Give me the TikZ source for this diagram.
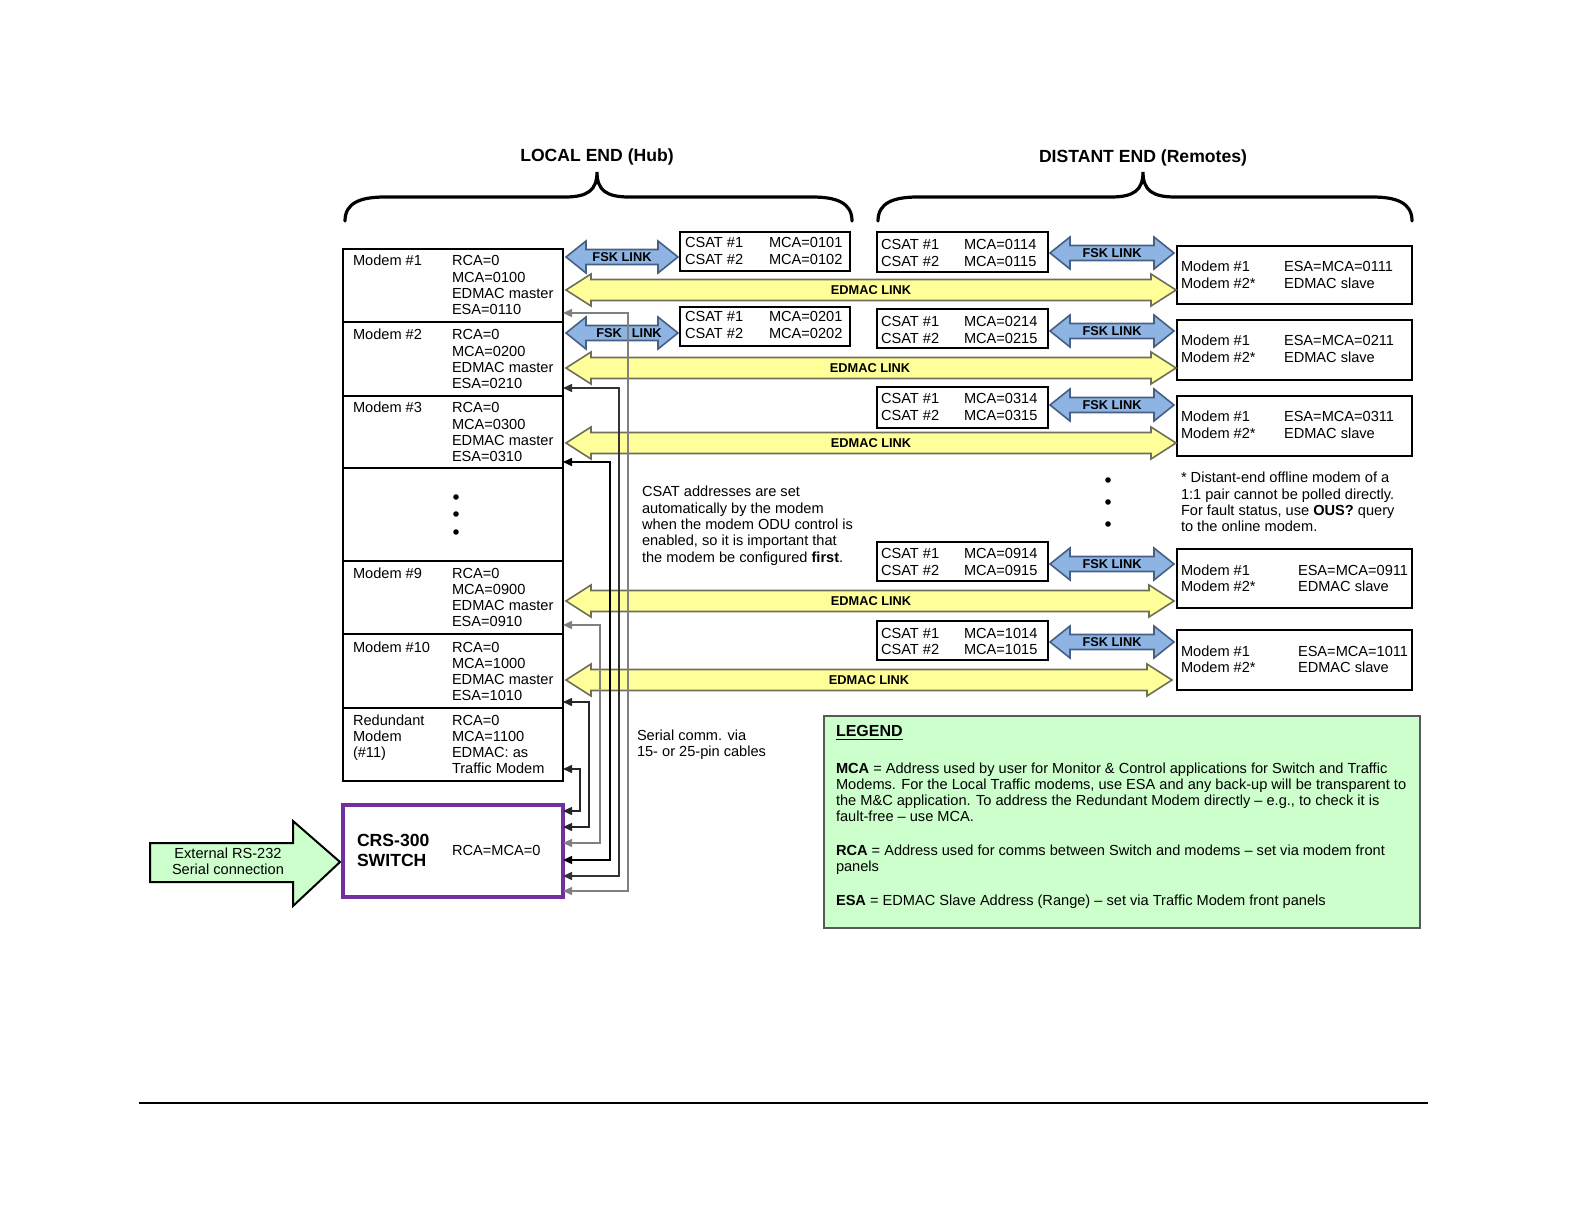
\documentclass[tikz,border=0pt]{standalone}
\usepackage{fontspec}
\setmainfont{Liberation Sans}
\usetikzlibrary{arrows.meta}
\definecolor{fskfill}{RGB}{141,180,226}
\definecolor{fskline}{RGB}{70,95,130}
\definecolor{edfill}{RGB}{255,255,153}
\definecolor{edline}{RGB}{110,110,90}
\definecolor{lgfill}{RGB}{204,255,204}
\definecolor{swline}{RGB}{112,48,160}
\newcommand{\ml}[1]{\begin{tabular}[t]{@{}l@{}}#1\end{tabular}}
% #1 style #2 name #3 x1 #4 x2 #5 yc #6 halfbody #7 halfhead #8 headlen
\newcommand{\dblarrow}[8]{%
  \draw[#1] (#3,#5) -- (#3+#8,#5-#7) -- (#3+#8,#5-#6) -- (#4-#8,#5-#6) -- (#4-#8,#5-#7) -- (#4,#5)
    -- (#4-#8,#5+#7) -- (#4-#8,#5+#6) -- (#3+#8,#5+#6) -- (#3+#8,#5+#7) -- cycle;
  \coordinate (#2) at ({(#3+#4)/2},#5);}
\newcommand{\bx}[6]{\node[box,#6,minimum width={(#4-#2)*0.5pt},minimum height={(#5-#3)*0.5pt}] (#1) at (#2,#3) {};}
\begin{document}
\begin{tikzpicture}[x=0.5pt,y=-0.5pt,
  txt/.style={font=\fontsize{7.3}{8.15}\selectfont, inner sep=0pt, outer sep=0pt, anchor=base west},
  box/.style={draw, line width=1pt, inner sep=0pt, outer sep=0pt, anchor=north west},
  lbl/.style={font=\fontsize{6.4}{7}\selectfont\bfseries, inner sep=0pt},
  fsk/.style={fill=fskfill, draw=fskline, line width=0.8pt},
  edm/.style={fill=edfill, draw=edline, line width=0.8pt},
  cable/.style={line width=0.75pt, {Triangle[length=4.5pt,width=4pt]}-{Triangle[length=4.5pt,width=4pt]}},
  brace/.style={line width=1.6pt, line cap=round},
  head/.style={font=\fontsize{8.8}{10}\selectfont\bfseries, inner sep=0pt},
]
\useasboundingbox (0,0) rectangle (1584,1224);

% headings and braces
\node[head] (hl) at (597,157) {LOCAL END (Hub)};
\node[head] (hr) at (1143,158) {DISTANT END (Remotes)};
\draw[brace] (345,221) .. controls (345,203) and (360,197) .. (385,197) -- (565,197)
  .. controls (588,197) and (597,190) .. (597,172) .. controls (597,190) and (606,197) .. (629,197)
  -- (812,197) .. controls (837,197) and (852,203) .. (852,221);
\draw[brace] (878,221) .. controls (878,203) and (893,197) .. (918,197) -- (1111,197)
  .. controls (1134,197) and (1143,190) .. (1143,172) .. controls (1143,190) and (1152,197) .. (1175,197)
  -- (1372,197) .. controls (1397,197) and (1412,203) .. (1412,221);

% local modem boxes
\bx{m1}{343}{249}{563}{322}{}
\bx{m2}{343}{322}{563}{396}{}
\bx{m3}{343}{396}{563}{468}{}
\bx{md}{343}{468}{563}{561}{}
\bx{m9}{343}{561}{563}{634}{}
\bx{m10}{343}{634}{563}{708}{}
\bx{m11}{343}{708}{563}{781}{}
\bx{sw}{343}{805}{563}{897}{draw=swline, line width=1.6pt}

\node[txt] (m1n) at (353,266) {Modem \#1};
\node[txt] (m1v) at (452,266) {\ml{RCA=0\\MCA=0100\\EDMAC master\\ESA=0110}};
\node[txt] (m2n) at (353,340) {Modem \#2};
\node[txt] (m2v) at (452,340) {\ml{RCA=0\\MCA=0200\\EDMAC master\\ESA=0210}};
\node[txt] (m3n) at (353,413) {Modem \#3};
\node[txt] (m3v) at (452,413) {\ml{RCA=0\\MCA=0300\\EDMAC master\\ESA=0310}};
\node[txt] (m9n) at (353,578) {Modem \#9};
\node[txt] (m9v) at (452,578) {\ml{RCA=0\\MCA=0900\\EDMAC master\\ESA=0910}};
\node[txt] (m10n) at (353,652) {Modem \#10};
\node[txt] (m10v) at (452,652) {\ml{RCA=0\\MCA=1000\\EDMAC master\\ESA=1010}};
\node[txt] (m11n) at (353,725) {\ml{Redundant\\Modem\\(\#11)}};
\node[txt] (m11v) at (452,725) {\ml{RCA=0\\MCA=1100\\EDMAC: as\\Traffic Modem}};
\fill (456,497) circle[radius=1.4pt];
\fill (456,514) circle[radius=1.4pt];
\fill (456,532) circle[radius=1.4pt];

\node[txt, font=\fontsize{8.8}{10}\selectfont\bfseries] (swn) at (357,846) {\ml{CRS-300\\SWITCH}};
\node[txt] (swv) at (452,855) {RCA=MCA=0};

% external connection arrow
\draw[fill=lgfill, line width=1pt] (150,843) -- (293,843) -- (293,821) -- (340,862) -- (293,906) -- (293,882) -- (150,882) -- cycle;
\node[txt, align=center, anchor=center] (ext) at (228,861) {External RS-232\\Serial connection};

% local CSAT boxes
\bx{c1}{680}{232}{850}{271}{}
\node[txt] (c1n) at (685,248) {\ml{CSAT \#1\\CSAT \#2}};
\node[txt] (c1v) at (769,248) {\ml{MCA=0101\\MCA=0102}};
\bx{c2}{680}{307}{850}{346}{}
\node[txt] (c2n) at (685,322) {\ml{CSAT \#1\\CSAT \#2}};
\node[txt] (c2v) at (769,322) {\ml{MCA=0201\\MCA=0202}};

% distant CSAT boxes
\bx{d1}{877}{232}{1048}{272}{}
\node[txt] (d1n) at (881,250) {\ml{CSAT \#1\\CSAT \#2}};
\node[txt] (d1v) at (964,250) {\ml{MCA=0114\\MCA=0115}};
\bx{d2}{877}{309}{1048}{348}{}
\node[txt] (d2n) at (881,327) {\ml{CSAT \#1\\CSAT \#2}};
\node[txt] (d2v) at (964,327) {\ml{MCA=0214\\MCA=0215}};
\bx{d3}{877}{387}{1048}{428}{}
\node[txt] (d3n) at (881,404) {\ml{CSAT \#1\\CSAT \#2}};
\node[txt] (d3v) at (964,404) {\ml{MCA=0314\\MCA=0315}};
\bx{d9}{877}{542}{1048}{581}{}
\node[txt] (d9n) at (881,559) {\ml{CSAT \#1\\CSAT \#2}};
\node[txt] (d9v) at (964,559) {\ml{MCA=0914\\MCA=0915}};
\bx{d10}{877}{621}{1048}{660}{}
\node[txt] (d10n) at (881,638) {\ml{CSAT \#1\\CSAT \#2}};
\node[txt] (d10v) at (964,638) {\ml{MCA=1014\\MCA=1015}};

% remote modem boxes
\bx{r1}{1177}{246}{1412}{304}{}
\node[txt] (r1n) at (1181,272) {\ml{Modem \#1\\Modem \#2*}};
\node[txt] (r1v) at (1284,272) {\ml{ESA=MCA=0111\\EDMAC slave}};
\bx{r2}{1177}{320}{1412}{380}{}
\node[txt] (r2n) at (1181,346) {\ml{Modem \#1\\Modem \#2*}};
\node[txt] (r2v) at (1284,346) {\ml{ESA=MCA=0211\\EDMAC slave}};
\bx{r3}{1177}{396}{1412}{456}{}
\node[txt] (r3n) at (1181,422) {\ml{Modem \#1\\Modem \#2*}};
\node[txt] (r3v) at (1284,422) {\ml{ESA=MCA=0311\\EDMAC slave}};
\bx{r9}{1177}{549}{1412}{608}{}
\node[txt] (r9n) at (1181,575) {\ml{Modem \#1\\Modem \#2*}};
\node[txt] (r9v) at (1298,575) {\ml{ESA=MCA=0911\\EDMAC slave}};
\bx{r10}{1177}{630}{1412}{690}{}
\node[txt] (r10n) at (1181,656) {\ml{Modem \#1\\Modem \#2*}};
\node[txt] (r10v) at (1298,656) {\ml{ESA=MCA=1011\\EDMAC slave}};
\fill (1108,480) circle[radius=1.4pt];
\fill (1108,502) circle[radius=1.4pt];
\fill (1108,524) circle[radius=1.4pt];

% FSK links
\dblarrow{fsk}{fa1}{566}{678}{257}{7.5}{16}{20}
\node[lbl] (fa1t) at (fa1) {FSK LINK};
\dblarrow{fsk}{fa2}{566}{678}{333}{7.5}{16}{20}
\node[lbl] (fa2t) at (629,333) {FSK\hspace{5pt}LINK};
\dblarrow{fsk}{fb1}{1050}{1174}{253}{7.5}{16}{20}
\node[lbl] (fb1t) at (fb1) {FSK LINK};
\dblarrow{fsk}{fb2}{1050}{1174}{331}{7.5}{16}{20}
\node[lbl] (fb2t) at (fb2) {FSK LINK};
\dblarrow{fsk}{fb3}{1050}{1174}{405}{7.5}{16}{20}
\node[lbl] (fb3t) at (fb3) {FSK LINK};
\dblarrow{fsk}{fb9}{1050}{1174}{564}{7.5}{16}{20}
\node[lbl] (fb9t) at (fb9) {FSK LINK};
\dblarrow{fsk}{fb10}{1050}{1174}{642}{7.5}{16}{20}
\node[lbl] (fb10t) at (fb10) {FSK LINK};

% EDMAC links
\dblarrow{edm}{e1}{566}{1176}{290}{10.5}{16}{25}
\node[lbl] (e1t) at (871,290) {EDMAC LINK};
\dblarrow{edm}{e2}{566}{1176}{368}{10.5}{16}{25}
\node[lbl] (e2t) at (870,368) {EDMAC LINK};
\dblarrow{edm}{e3}{566}{1176}{443}{10.5}{16}{25}
\node[lbl] (e3t) at (871,443) {EDMAC LINK};
\dblarrow{edm}{e9}{566}{1174}{601}{10.5}{16}{25}
\node[lbl] (e9t) at (871,601) {EDMAC LINK};
\dblarrow{edm}{e10}{566}{1172}{680}{10.5}{16}{25}
\node[lbl] (e10t) at (869,680) {EDMAC LINK};

% serial cables
\coordinate (p1) at (563,313);
\coordinate (p2) at (563,388);
\coordinate (p3) at (563,462);
\coordinate (p9) at (563,625);
\coordinate (p10) at (563,702);
\coordinate (p11) at (563,769);
\coordinate (q1) at (563,891);
\coordinate (q2) at (563,876);
\coordinate (q3) at (563,860);
\coordinate (q9) at (563,843);
\coordinate (q10) at (563,827);
\coordinate (q11) at (563,811);
\draw[cable, gray] (p1) -- ++(65,0) |- (q1);
\draw[cable, black!80] (p2) -- ++(56,0) |- (q2);
\draw[cable, black] (p3) -- ++(47,0) |- (q3);
\draw[cable, gray] (p9) -- ++(37,0) |- (q9);
\draw[cable, black!85] (p10) -- ++(26,0) |- (q10);
\draw[cable, black!85] (p11) -- ++(17,0) |- (q11);

% notes
\node[txt] (note1) at (642,497) {\ml{CSAT addresses are set\\automatically by the modem\\when the modem ODU control is\\enabled, so it is important that\\the modem be configured \textbf{first}.}};
\node[txt] (note2) at (637,740) {\ml{Serial comm. via\\15- or 25-pin cables}};
\node[txt] (note3) at (1181,483) {\ml{* Distant-end offline modem of a\\1:1 pair cannot be polled directly.\\For fault status, use \textbf{OUS?} query\\to the online modem.}};

% legend
\bx{lg}{824}{716}{1420}{928}{fill=lgfill, draw=black!65}
\node[txt, font=\fontsize{8}{9}\selectfont\bfseries] (lgh) at (836,736) {\underline{LEGEND}};
\node[txt] (lg1) at (836,773) {\ml{\textbf{MCA} = Address used by user for Monitor \& Control applications for Switch and Traffic\\Modems. For the Local Traffic modems, use ESA and any back-up will be transparent to\\the M\&C application. To address the Redundant Modem directly -- e.g., to check it is\\fault-free -- use MCA.}};
\node[txt] (lg2) at (836,855) {\ml{\textbf{RCA} = Address used for comms between Switch and modems -- set via modem front\\panels}};
\node[txt] (lg3) at (836,905) {\textbf{ESA} = EDMAC Slave Address (Range) -- set via Traffic Modem front panels};

% bottom rule
\coordinate (bl) at (139,1103);
\coordinate (br) at (1428,1103);
\draw[line width=0.8pt] (bl) -- (br);
\end{tikzpicture}
\end{document}
